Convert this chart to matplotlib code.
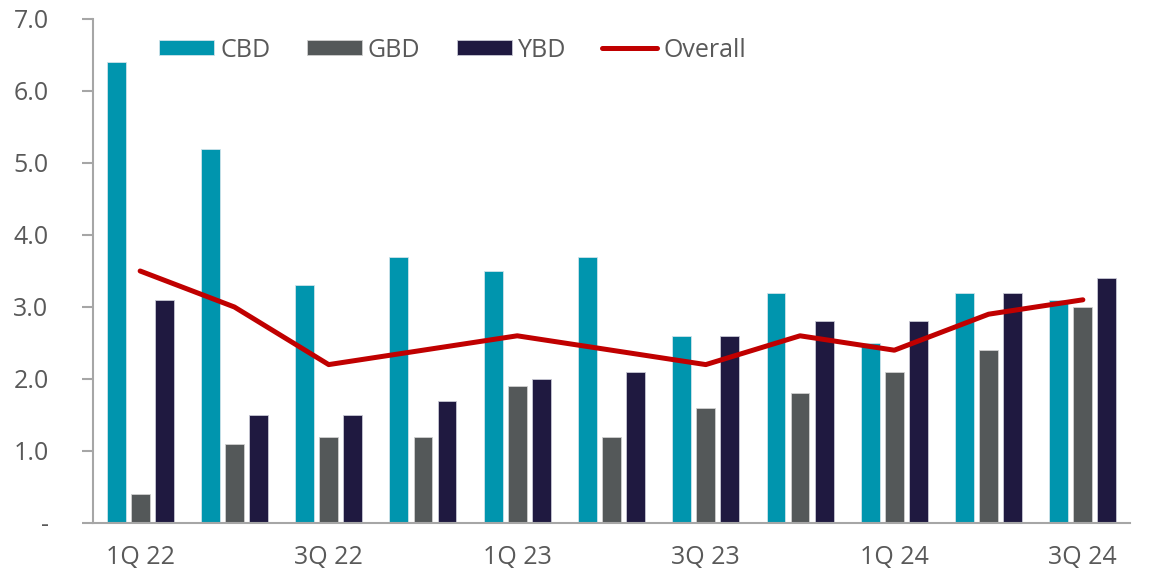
import numpy as np
import matplotlib.pyplot as plt

quarters = ['1Q 22', '2Q 22', '3Q 22', '4Q 22', '1Q 23', '2Q 23',
            '3Q 23', '4Q 23', '1Q 24', '2Q 24', '3Q 24']
cbd = [6.4, 5.2, 3.3, 3.7, 3.5, 3.7, 2.6, 3.2, 2.5, 3.2, 3.1]
gbd = [0.4, 1.1, 1.2, 1.2, 1.9, 1.2, 1.6, 1.8, 2.1, 2.4, 3.0]
ybd = [3.1, 1.5, 1.5, 1.7, 2.0, 2.1, 2.6, 2.8, 2.8, 3.2, 3.4]
overall = [3.5, 3.0, 2.2, 2.4, 2.6, 2.4, 2.2, 2.6, 2.4, 2.9, 3.1]

yticks = [0, 1, 2, 3, 4, 5, 6, 7]
ylabels = ['-', '1.0', '2.0', '3.0', '4.0', '5.0', '6.0', '7.0']

c_cbd = '#0095AE'
c_gbd = '#545859'
c_ybd = '#1F1940'
c_all = '#C00000'
c_txt = '#595959'

plt.rcParams['font.family'] = ['Open Sans', 'DejaVu Sans']

fig = plt.figure(figsize=(11.5, 5.71), dpi=100)
ax = fig.add_axes([93 / 1150, 1 - 523 / 571, 1037 / 1150, 504 / 571])

x = np.arange(len(quarters))
w = 0.2
off = 0.255
b1 = ax.bar(x - off, cbd, w, color=c_cbd, edgecolor='#cfe3ea', linewidth=0.6, label='CBD')
b2 = ax.bar(x, gbd, w, color=c_gbd, edgecolor='#d0d0d0', linewidth=0.6, label='GBD')
b3 = ax.bar(x + off, ybd, w, color=c_ybd, edgecolor='#c8c8d4', linewidth=0.6, label='YBD')
ln, = ax.plot(x, overall, color=c_all, linewidth=3.6, solid_capstyle='round', label='Overall')

ax.set_xlim(-0.5, len(quarters) - 0.5)
ax.set_ylim(0, 7)
ax.set_yticks(yticks)
ax.set_yticklabels(ylabels)
ax.set_xticks(x[::2])
ax.set_xticklabels(quarters[::2])

for s in ['top', 'right']:
    ax.spines[s].set_visible(False)
for s in ['left', 'bottom']:
    ax.spines[s].set_color('#a6a6a6')
    ax.spines[s].set_linewidth(1.5)

ax.tick_params(axis='y', colors='#a6a6a6', labelcolor=c_txt, labelsize=18,
               length=8, width=1.5, pad=24)
ax.tick_params(axis='x', length=0, labelcolor=c_txt, labelsize=18, pad=16)

ax.legend([b1, b2, b3, ln], ['CBD', 'GBD', 'YBD', 'Overall'],
          loc='upper left', bbox_to_anchor=(0.054, 0.983), ncol=4, frameon=False,
          fontsize=18, handlelength=2.2, handleheight=0.55, handletextpad=0.25,
          columnspacing=1.45, borderaxespad=0, labelcolor=c_txt)

fig.savefig('out.png', dpi=100)
